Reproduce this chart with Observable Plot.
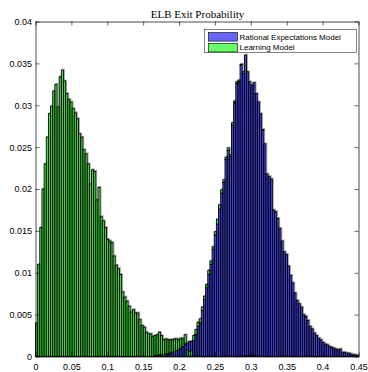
<!DOCTYPE html>
<html><head><meta charset="utf-8">
<script src="https://cdn.jsdelivr.net/npm/d3@7"></script>
<script src="https://cdn.jsdelivr.net/npm/@observablehq/plot@0.6"></script>
<style>body{margin:0;background:#fff}#chart{width:368px;height:372px}</style>
</head><body><div id="chart"></div>
<script>
const title = "ELB Exit Probability";
const seriesNames = ["Rational Expectations Model", "Learning Model"];
const seriesColors = ["#0000ff", "#00ff00"];
const binWidth = 0.003;

const rationalStart = 0.165;
const rationalValues = [
  0.0001, 0.0001, 0.0002, 0.0002, 0.0002, 0.0003, 0.0003, 0.0004, 0.0005, 0.0006, 0.0007, 0.0008, 0.0010, 0.0012,
  0.0015, 0.0016, 0.0018, 0.0018, 0.0019, 0.0026, 0.0036, 0.0040, 0.0055, 0.0068, 0.0082, 0.0098, 0.0110, 0.0128, 0.0145, 0.0158, 0.0176, 0.0195, 0.0208,
  0.0235, 0.0246, 0.0239, 0.0276, 0.0303, 0.0326, 0.0328, 0.0348, 0.0338, 0.0360, 0.0340, 0.0328,
  0.0324, 0.0327, 0.0314, 0.0304, 0.0290, 0.0270, 0.0254, 0.0218, 0.0215, 0.0212, 0.0175, 0.0173, 0.0165, 0.0153, 0.0138, 0.0125, 0.0122,
  0.0108, 0.0097, 0.0088, 0.0076, 0.0067, 0.0063, 0.0059, 0.0050, 0.0048, 0.0043, 0.0036, 0.0033, 0.0028, 0.0025, 0.0022, 0.0020, 0.0017,
  0.0015, 0.0014, 0.0012, 0.0011, 0.0010, 0.0009, 0.0008, 0.0009, 0.0005, 0.0005, 0.0004, 0.0004, 0.0003, 0.0002, 0.0002, 0.0001
];

const learningStart = 0;
const learningValues = [
  0.0040, 0.0110, 0.0154, 0.0200, 0.0230, 0.0262, 0.0290, 0.0299, 0.0317, 0.0325,
  0.0298, 0.0334, 0.0342, 0.0329, 0.0314, 0.0307, 0.0304, 0.0296, 0.0291, 0.0284,
  0.0266, 0.0262, 0.0247, 0.0242, 0.0230, 0.0206, 0.0223, 0.0221, 0.0187, 0.0202,
  0.0167, 0.0162, 0.0154, 0.0140, 0.0138, 0.0136, 0.0120, 0.0109, 0.0105, 0.0098,
  0.0077, 0.0071, 0.0066, 0.0060, 0.0053, 0.0056, 0.0052, 0.0052, 0.0044, 0.0037,
  0.0035, 0.0029, 0.0027, 0.0027, 0.0024, 0.0024, 0.0025, 0.0027, 0.0023, 0.0020,
  0.0018, 0.0017, 0.0016, 0.0015, 0.0015, 0.0014, 0.0012, 0.0012, 0.0009, 0.0011,
  0.0008, 0.0006, 0.0007, 0.0006, 0.0006, 0.0005, 0.0005, 0.0004, 0.0004, 0.0004,
  0.0005, 0.0004, 0.0003, 0.0004, 0.0006, 0.0005, 0.0004, 0.0003, 0.0003, 0.0003,
  0.0002, 0.0003, 0.0002, 0.0002, 0.0002, 0.0001, 0.0002, 0.0001, 0.0001, 0.0001,
  0.0001, 0.0001, 0, 0.0001, 0, 0.0001
];

const xTicks = [0, 0.05, 0.1, 0.15, 0.2, 0.25, 0.3, 0.35, 0.4, 0.45];
const yTicks = [0, 0.005, 0.01, 0.015, 0.02, 0.025, 0.03, 0.035, 0.04];

const rows = [];
rationalValues.forEach((v, i) => rows.push({series: seriesNames[0], x1: rationalStart + i * binWidth, x2: rationalStart + (i + 1) * binWidth, y: v}));
learningValues.forEach((v, i) => rows.push({series: seriesNames[1], x1: learningStart + i * binWidth, x2: learningStart + (i + 1) * binWidth, y: v}));

const tickStyle = {stroke: "#000", strokeWidth: 0.6};
const plot = Plot.plot({
  width: 368, height: 372,
  marginLeft: 35.5, marginRight: 9.5, marginTop: 21.5, marginBottom: 15.5,
  style: {fontFamily: "'Liberation Sans', Arial, sans-serif", fontSize: "9px", background: "white", color: "#000"},
  x: {domain: [0, 0.45]},
  y: {domain: [0, 0.04]},
  color: {domain: seriesNames, range: seriesColors},
  marks: [
    // faint grey halo seen around the bar outlines in the original rendering
    Plot.rectY(rows, {x1: "x1", x2: "x2", y: "y", fill: "none", stroke: "#9a9a9a", strokeWidth: 0.8, dx: 0.9, dy: -0.9, inset: 0}),
    Plot.rectY(rows, {x1: "x1", x2: "x2", y: "y", fill: "series", fillOpacity: 0.6, stroke: "#000", strokeWidth: 0.9, inset: 0}),
    Plot.frame({stroke: "#000", strokeWidth: 0.7}),
    Plot.ruleX(xTicks, {x: d => d, y1: 0, y2: 0, insetBottom: 4, ...tickStyle}),
    Plot.ruleX(xTicks, {x: d => d, y1: 0.04, y2: 0.04, insetBottom: -4, ...tickStyle}),
    Plot.ruleY(yTicks, {y: d => d, x1: 0, x2: 0, insetRight: -4, ...tickStyle}),
    Plot.ruleY(yTicks, {y: d => d, x1: 0.45, x2: 0.45, insetRight: 4, ...tickStyle}),
    Plot.axisX(xTicks, {tickSize: 0, tickPadding: 7, tickFormat: d => String(d), label: null, fontSize: 9}),
    Plot.axisY(yTicks, {tickSize: 0, tickPadding: 4, tickFormat: d => String(d), label: null, fontSize: 9}),
    Plot.text([title], {frameAnchor: "top", dy: -8, lineAnchor: "middle", fontFamily: "'Liberation Serif', 'DejaVu Serif', serif", fontSize: 11, fill: "#000"})
  ]
});
document.getElementById("chart").appendChild(plot);

// legend inside the axes (top right)
const svg = d3.select(plot);
const lg = svg.append("g").attr("font-family", "'Liberation Sans', Arial, sans-serif").attr("font-size", 8).attr("text-anchor", "start");
lg.append("rect").attr("x", 204.5).attr("y", 29.5).attr("width", 152).attr("height", 23)
  .attr("fill", "#fff").attr("stroke", "#333").attr("stroke-width", 0.6);
seriesNames.forEach((name, i) => {
  const yy = 32.5 + i * 10.8;
  lg.append("rect").attr("x", 208.5).attr("y", yy).attr("width", 29).attr("height", 8.6)
    .attr("fill", seriesColors[i]).attr("fill-opacity", 0.6).attr("stroke", "#000").attr("stroke-width", 0.6);
  lg.append("text").attr("x", 239.5).attr("y", yy + 4.3).attr("dy", "0.35em").attr("text-anchor", "start").attr("fill", "#000").text(name);
});
</script>
</body></html>
